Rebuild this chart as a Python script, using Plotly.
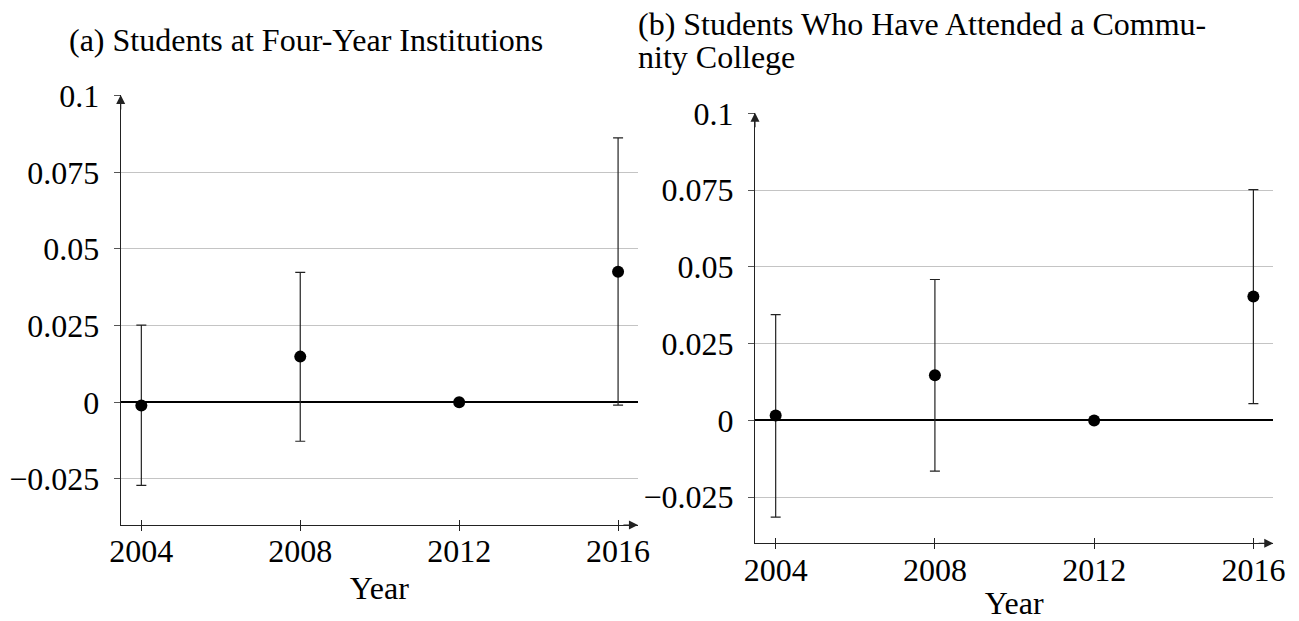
import plotly.graph_objects as go

# Survey years on the horizontal axis
years = [2004, 2008, 2012, 2016]
x_ticktext = ["2004", "2008", "2012", "2016"]

# (a) Students at four-year institutions: point estimates and confidence bounds
est_a = [-0.0010, 0.0149, 0.0, 0.0426]
low_a = [-0.0271, -0.0127, 0.0, -0.0009]
high_a = [0.0252, 0.0424, 0.0, 0.0862]

# (b) Students who have attended a community college
est_b = [0.0016, 0.0147, 0.0, 0.0404]
low_b = [-0.0315, -0.0165, 0.0, 0.0055]
high_b = [0.0345, 0.0459, 0.0, 0.0752]

y_tickvals = [-0.025, 0, 0.025, 0.05, 0.075, 0.1]
y_ticktext = ["\u22120.025", "0", "0.025", "0.05", "0.075", "0.1"]

title_a = "(a) Students at Four-Year Institutions"
title_b_lines = ["(b) Students Who Have Attended a Commu-", "nity College"]
x_title = "Year"

W, H = 1299, 621
FONT = "Liberation Serif"
TICK_SIZE = 32
TITLE_SIZE = 32
AXIS_COLOR = "#222222"
GRID_COLOR = "#c4c4c4"

fig = go.Figure()


def add_panel(est, low, high, xa, ya):
    fig.add_trace(go.Scatter(
        x=years, y=est, mode="markers",
        marker=dict(color="black", size=12),
        error_y=dict(
            type="data", symmetric=False,
            array=[h - e for h, e in zip(high, est)],
            arrayminus=[e - l for e, l in zip(est, low)],
            color=AXIS_COLOR, thickness=1.2, width=5,
        ),
        xaxis=xa, yaxis=ya, showlegend=False, hoverinfo="skip",
    ))


add_panel(est_a, low_a, high_a, "x", "y")
add_panel(est_b, low_b, high_b, "x2", "y2")

# empty traces so the overlay axes (inner halves of the x ticks) get drawn
fig.add_trace(go.Scatter(x=[years[0]], y=[None], xaxis="x3", yaxis="y",
                         showlegend=False, hoverinfo="skip"))
fig.add_trace(go.Scatter(x=[years[0]], y=[None], xaxis="x4", yaxis="y2",
                         showlegend=False, hoverinfo="skip"))

x_range = [2003.48, 2016.5]
y_range = [-0.04, 0.1002]


def x_axis(domain, anchor):
    return dict(
        domain=domain, anchor=anchor, range=x_range, automargin=False,
        tickvals=years, ticktext=x_ticktext,
        ticks="outside", ticklen=5, tickwidth=1, tickcolor=AXIS_COLOR,
        showgrid=False, zeroline=False,
        showline=True, linecolor=AXIS_COLOR, linewidth=1.2,
        tickfont=dict(family=FONT, size=TICK_SIZE, color="black"),
        ticklabelstandoff=-7,
        title=dict(text=x_title, font=dict(family=FONT, size=TICK_SIZE, color="black"),
                   standoff=8),
    )


def x_overlay(over, anchor):
    return dict(
        overlaying=over, anchor=anchor, range=x_range, automargin=False,
        tickvals=years, ticks="inside", ticklen=5, tickwidth=1, tickcolor=AXIS_COLOR,
        showticklabels=False, showgrid=False, zeroline=False, showline=False,
    )


def y_axis(domain, anchor):
    return dict(
        domain=domain, anchor=anchor, range=y_range, automargin=False,
        tickvals=y_tickvals, ticktext=y_ticktext,
        ticks="outside", ticklen=6, tickwidth=1, tickcolor="#555555",
        showgrid=True, gridcolor=GRID_COLOR, gridwidth=1,
        zeroline=True, zerolinecolor="black", zerolinewidth=2.2,
        showline=True, linecolor=AXIS_COLOR, linewidth=1.2,
        tickfont=dict(family=FONT, size=TICK_SIZE, color="black"),
        ticklabelstandoff=8,
    )


fig.update_layout(
    width=W, height=H,
    margin=dict(l=0, r=0, t=0, b=0, autoexpand=False),
    paper_bgcolor="white", plot_bgcolor="white",
    xaxis=x_axis([0.0929, 0.4911], "y"),
    yaxis=y_axis([0.1546, 0.8470], "x"),
    xaxis2=x_axis([0.5812, 0.9802], "y2"),
    yaxis2=y_axis([0.1251, 0.8184], "x2"),
    xaxis3=x_overlay("x", "y"),
    xaxis4=x_overlay("x2", "y2"),
)

# arrow tips at the ends of both axis lines
arrows = []
for xr, yr in (("x", "y"), ("x2", "y2")):
    arrows.append(dict(xref=f"{xr} domain", yref=f"{yr} domain", x=0, y=1,
                       ax=0, ay=16, axref="pixel", ayref="pixel", text="",
                       showarrow=True, arrowhead=2, arrowsize=1.5, arrowwidth=1.2,
                       arrowcolor=AXIS_COLOR, standoff=0))
    arrows.append(dict(xref=f"{xr} domain", yref=f"{yr} domain", x=1, y=0,
                       ax=-16, ay=0, axref="pixel", ayref="pixel", text="",
                       showarrow=True, arrowhead=2, arrowsize=1.5, arrowwidth=1.2,
                       arrowcolor=AXIS_COLOR, standoff=0))

titles = [
    dict(text=title_a, x=67 / W, y=1 - 40 / H),
    dict(text=title_b_lines[0], x=636 / W, y=1 - 24 / H),
    dict(text=title_b_lines[1], x=636 / W, y=1 - 57 / H),
]
for t in titles:
    arrows.append(dict(xref="paper", yref="paper", x=t["x"], y=t["y"],
                       xanchor="left", yanchor="middle", text=t["text"],
                       showarrow=False,
                       font=dict(family=FONT, size=TITLE_SIZE, color="black")))

fig.update_layout(annotations=arrows)

fig.write_html("out.html")
